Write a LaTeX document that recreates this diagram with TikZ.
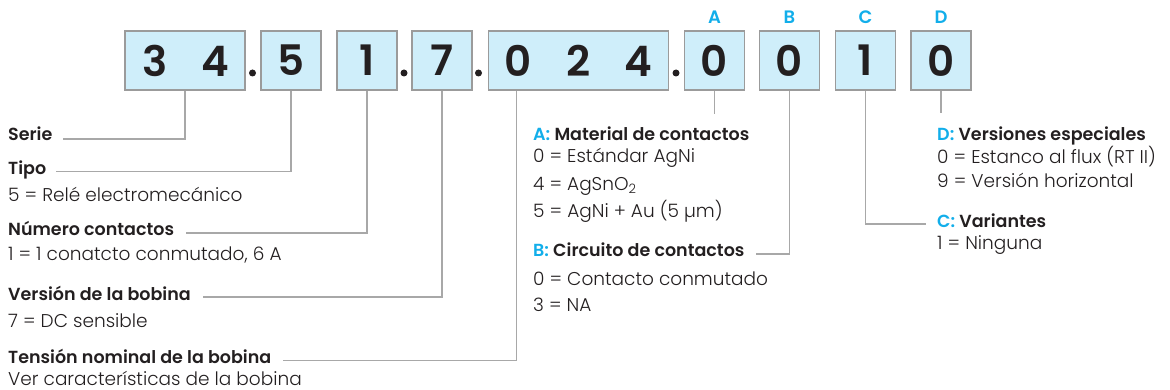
\documentclass[tikz,border=0pt]{standalone}
\usepackage{fontspec}
\setmainfont{Poppins}[UprightFont=* Light, BoldFont=* SemiBold]
\definecolor{boxfill}{HTML}{CFEEFA}
\definecolor{boxline}{HTML}{9B9B9B}
\definecolor{leadline}{HTML}{A8A8A8}
\definecolor{cyanletter}{HTML}{12AEEA}
\definecolor{ink}{HTML}{231F20}
\newcommand{\dg}[1]{\makebox[60pt]{#1}}

\begin{document}
\begin{tikzpicture}[x=1pt,y=-1pt,
    code/.style ={draw=boxline, fill=boxfill, line width=1.3pt, inner sep=0pt,
      minimum height=59pt, text=ink, font=\fontsize{42}{42}\selectfont\bfseries},
    letter/.style ={text=cyanletter, font=\fontsize{18}{18}\selectfont\bfseries},
    title/.style ={anchor=base west, inner sep=0pt, text=ink,
      font=\fontsize{17.5}{17.5}\selectfont\bfseries},
    value/.style ={anchor=base west, inner sep=0pt, text=ink,
      font=\fontsize{18.5}{18.5}\selectfont},
    lead/.style ={draw=leadline, line width=1.2pt}]
   \useasboundingbox (0,0) rectangle (1170,390);

   \node[code] (b34)  at (185,60.5)   {\dg{3}\dg{4}};
   \node[code] (b5)   at (291,60.5)   {\dg{5}};
   \node[code] (b1)   at (367,60.5)   {\dg{1}};
   \node[code] (b7)   at (442,60.5)   {\dg{7}};
   \node[code] (b024) at (578.5,60.5) {\dg{0}\dg{2}\dg{4}};
   \node[code] (bA)   at (714.5,60.5) {\dg{0}};
   \node[code] (bB)   at (789.5,60.5) {\dg{0}};
   \node[code] (bC)   at (865.5,60.5) {\dg{1}};
   \node[code] (bD)   at (941,60.5)   {\dg{0}};

   \foreach \x/\n in {252.5/1, 404/2, 478.5/3, 676/4}
     \node[circle, fill=ink, inner sep=0pt, minimum size=7pt] (dot\n) at (\x,73) {};

   \node[letter] (lA) at (714.5,17) {A};
   \node[letter] (lB) at (789.5,17) {B};
   \node[letter] (lC) at (865.5,17) {C};
   \node[letter] (lD) at (941,17)   {D};

   \node[title] (serie)    at (8,140.5) {Serie};
   \node[title] (tipo)     at (8,174.5) {Tipo};
   \node[value] (tipo0)    at (8,201.5) {5 = Relé electromecánico};
   \node[title] (numero)   at (8,236)   {Número contactos};
   \node[value] (numero0)  at (8,261)   {1 = 1 conatcto conmutado, 6 A};
   \node[title] (version)  at (8,300)   {Versión de la bobina};
   \node[value] (version0) at (8,327)   {7 = DC sensible};
   \node[title] (tension)  at (8,363.5) {Tensión nominal de la bobina};
   \node[value] (tension0) at (8,385)   {Ver características de la bobina};

   \node[title] (matA)  at (533,140.5) {\textcolor{cyanletter}{A:} Material de contactos};
   \node[value] (matA0) at (533,163)   {0 = Estándar AgNi};
   \node[value] (matA4) at (533,190.5) {4 = AgSnO\textsubscript{2}};
   \node[value] (matA5) at (533,218)   {5 = AgNi + Au (5 µm)};
   \node[title] (cirB)  at (533,257)   {\textcolor{cyanletter}{B:} Circuito de contactos};
   \node[value] (cirB0) at (533,285)   {0 = Contacto conmutado};
   \node[value] (cirB3) at (533,311.5) {3 = NA};

   \node[title] (verD)  at (937,140.5) {\textcolor{cyanletter}{D:} Versiones especiales};
   \node[value] (verD0) at (937,164)   {0 = Estanco al flux (RT II)};
   \node[value] (verD9) at (937,188)   {9 = Versión horizontal};
   \node[title] (varC)  at (937,228)   {\textcolor{cyanletter}{C:} Variantes};
   \node[value] (varC1) at (937,250)   {1 = Ninguna};

   \coordinate (tipA) at (714.5,114);
   \coordinate (tipD) at (941,113);

   \draw[lead] (b34)  |- ([xshift=10pt,yshift=1.5pt]serie.base east);
   \draw[lead] (b5)   |- ([xshift=10pt,yshift=3pt]tipo.base east);
   \draw[lead] (b1)   |- ([xshift=12pt,yshift=3pt]numero.base east);
   \draw[lead] (b7)   |- ([xshift=12pt,yshift=3pt]version.base east);
   \draw[lead] ([xshift=29pt]b024.south west) |- ([xshift=12pt,yshift=3pt]tension.base east);
   \draw[lead] (bA)   -- (tipA);
   \draw[lead] (bB)   |- ([xshift=11pt,yshift=3pt]cirB.base east);
   \draw[lead] (bC)   |- ([xshift=-11pt,yshift=4pt]varC.base west);
   \draw[lead] (bD)   -- (tipD);
 \end{tikzpicture}
\end{document}
